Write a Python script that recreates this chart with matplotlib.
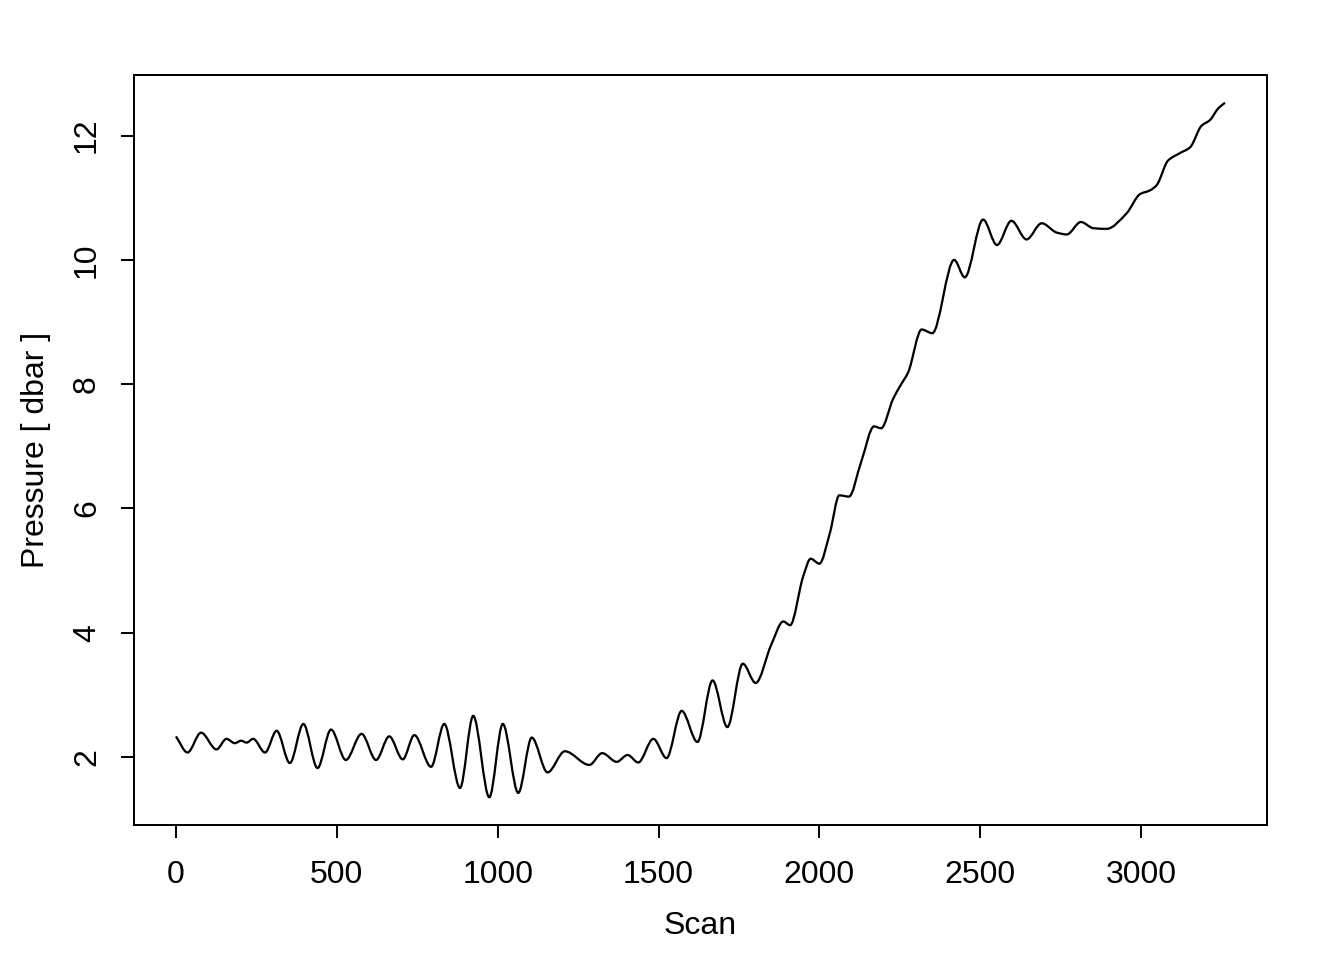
import matplotlib.pyplot as plt
import numpy as np
from matplotlib.path import Path
from matplotlib.patches import PathPatch

# values (scan number, pressure in dbar)
scan = [0, 36, 78, 126, 157, 183, 202, 220, 240, 277, 313, 354, 396, 440,
        482, 528, 577, 622, 663, 705, 741, 793, 834, 883, 924, 974, 1016,
        1064, 1106, 1155, 1209, 1285, 1325, 1370, 1404, 1437, 1484, 1525,
        1572, 1621, 1668, 1714, 1762, 1802, 1850, 1888, 1909, 1950, 1973,
        2000, 2033, 2062, 2092, 2130, 2170, 2192, 2229, 2251, 2276, 2318,
        2351, 2419, 2452, 2509, 2552, 2597, 2644, 2691, 2738, 2769, 2813,
        2852, 2893, 2955, 2997, 3028, 3048, 3084, 3121, 3152, 3188, 3214,
        3240, 3261]
pressure = [2.33, 2.07, 2.39, 2.12, 2.29, 2.22, 2.26, 2.23, 2.29, 2.07, 2.42,
            1.90, 2.53, 1.82, 2.44, 1.95, 2.37, 1.95, 2.33, 1.96, 2.35, 1.84,
            2.53, 1.50, 2.66, 1.35, 2.53, 1.42, 2.31, 1.75, 2.09, 1.87, 2.06,
            1.92, 2.03, 1.91, 2.29, 1.98, 2.74, 2.24, 3.23, 2.48, 3.50, 3.19,
            3.80, 4.18, 4.12, 4.91, 5.19, 5.11, 5.61, 6.21, 6.19, 6.75, 7.32,
            7.29, 7.76, 7.97, 8.19, 8.88, 8.82, 10.0, 9.72, 10.65, 10.24,
            10.63, 10.33, 10.59, 10.44, 10.41, 10.61, 10.51, 10.50, 10.75,
            11.06, 11.12, 11.20, 11.60, 11.72, 11.81, 12.16, 12.25, 12.44,
            12.53]

xticks = [0, 500, 1000, 1500, 2000, 2500, 3000]
yticks = [2, 4, 6, 8, 10, 12]

plt.rcParams['font.family'] = ['Liberation Sans', 'DejaVu Sans']
plt.rcParams['font.size'] = 12


def smooth_path(x, y):
    # monotone cubic bezier through the read points (flat at the peaks)
    x = np.asarray(x, float)
    y = np.asarray(y, float)
    h = np.diff(x)
    d = np.diff(y) / h
    m = np.zeros_like(y)
    m[0], m[-1] = d[0], d[-1]
    for i in range(1, len(y) - 1):
        if d[i - 1] * d[i] > 0:
            w1 = 2 * h[i] + h[i - 1]
            w2 = h[i] + 2 * h[i - 1]
            m[i] = (w1 + w2) / (w1 / d[i - 1] + w2 / d[i])
    verts = [(x[0], y[0])]
    codes = [Path.MOVETO]
    for i in range(len(x) - 1):
        verts += [(x[i] + h[i] / 3, y[i] + m[i] * h[i] / 3),
                  (x[i + 1] - h[i] / 3, y[i + 1] - m[i + 1] * h[i] / 3),
                  (x[i + 1], y[i + 1])]
        codes += [Path.CURVE4] * 3
    return Path(verts, codes)


fig = plt.figure(figsize=(7, 5), dpi=192)
ax = fig.add_axes([0.0997, 0.1406, 0.843, 0.7813])

ax.add_patch(PathPatch(smooth_path(scan, pressure), fill=False,
                       edgecolor='black', linewidth=0.85))

span_x = max(scan) - min(scan)
span_y = max(pressure) - min(pressure)
ax.set_xlim(min(scan) - 0.04 * span_x, max(scan) + 0.04 * span_x)
ax.set_ylim(min(pressure) - 0.04 * span_y, max(pressure) + 0.04 * span_y)

ax.set_xticks(xticks)
ax.set_yticks(yticks)
ax.set_yticklabels([str(v) for v in yticks], rotation=90, va='center')
ax.tick_params(direction='out', length=5, width=0.75, pad=7)
ax.tick_params(axis='x', pad=8)
for s in ax.spines.values():
    s.set_linewidth(0.75)

ax.set_xlabel('Scan', labelpad=8)
ax.set_ylabel('Pressure [ dbar ]', labelpad=8)

fig.savefig('out.png', dpi=192)
